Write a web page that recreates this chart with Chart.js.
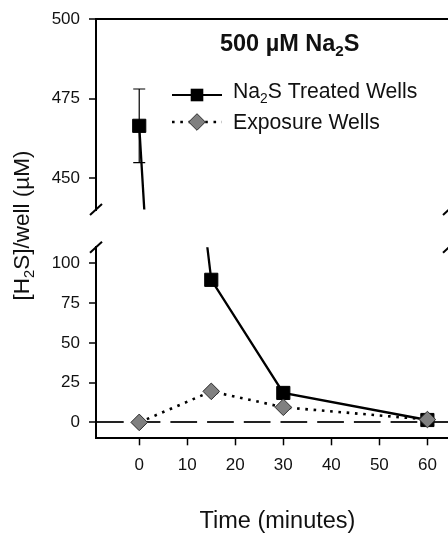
<!DOCTYPE html>
<html>
<head>
<meta charset="utf-8">
<script src="https://cdn.jsdelivr.net/npm/chart.js@4.4.1/dist/chart.umd.min.js"></script>
<style>
  html, body { margin: 0; padding: 0; background: #fff; overflow: hidden; }
  canvas { display: block; }
</style>
</head>
<body>
<canvas id="grafico" width="460" height="534"></canvas>
<script>
// ======================
// Dados
// ======================
const tempos = [0, 15, 30, 60];
const tratadoMedia = [466.4, 89.6, 18.5, 1.5];
const tratadoErro = [11.6, null, null, null];
const exposicaoMedia = [0, 19.5, 9.5, 1.8];

// eixos
const xMin = -9, xMax = 64.5, xPasso = 10;
const yTopoMin = 440, yTopoMax = 500;
const yBaseMin = -10, yBaseMax = 110;
const yPasso = 25;

const FONTE = '"Liberation Sans", Arial, Helvetica, sans-serif';

const pares = (valores) => tempos.map((t, i) => ({ x: t, y: valores[i] }));

// texto com subscrito: partes = [[texto, sub], ...]
function textoRico(ctx, partes, x, y, tam, peso, alinhar) {
  const medir = (p) => {
    ctx.font = `${peso} ${p[1] ? tam * 0.65 : tam}px ${FONTE}`;
    return ctx.measureText(p[0]).width;
  };
  const total = partes.reduce((s, p) => s + medir(p), 0);
  let cx = alinhar === "center" ? x - total / 2 : x;
  ctx.textAlign = "left";
  ctx.textBaseline = "alphabetic";
  partes.forEach((p) => {
    const w = medir(p);
    ctx.fillText(p[0], cx, p[1] ? y + tam * 0.25 : y);
    cx += w;
  });
}

// recorta cada dataset ao seu painel (eixo quebrado)
const recortePainel = {
  id: "recortePainel",
  beforeDatasetDraw(chart, args) {
    const ys = chart.scales[args.meta.yAxisID];
    const { ctx, chartArea } = chart;
    ctx.save();
    ctx.beginPath();
    ctx.rect(chartArea.left - 20, ys.top - 1, chartArea.right - chartArea.left + 40, ys.bottom - ys.top + 2);
    ctx.clip();
  },
  afterDatasetDraw(chart) {
    chart.ctx.restore();
  }
};

// barras de erro
const barrasErro = {
  id: "barrasErro",
  afterDatasetsDraw(chart) {
    const { ctx } = chart;
    const sx = chart.scales.x;
    ctx.save();
    ctx.strokeStyle = "#000";
    ctx.lineWidth = 1.2;
    tempos.forEach((t, i) => {
      const e = tratadoErro[i];
      if (e == null) return;
      const s = tratadoMedia[i] >= yTopoMin ? chart.scales.yTopo : chart.scales.yBase;
      const x = sx.getPixelForValue(t);
      const y1 = s.getPixelForValue(tratadoMedia[i] + e);
      const y2 = s.getPixelForValue(tratadoMedia[i] - e);
      ctx.beginPath();
      ctx.moveTo(x, y1); ctx.lineTo(x, y2);
      ctx.moveTo(x - 6, y1); ctx.lineTo(x + 6, y1);
      ctx.moveTo(x - 6, y2); ctx.lineTo(x + 6, y2);
      ctx.stroke();
    });
    ctx.restore();
  }
};

// quebras, título, legenda e títulos dos eixos
const decoracao = {
  id: "decoracao",
  afterDraw(chart) {
    const { ctx, chartArea } = chart;
    const topo = chart.scales.yTopo, base = chart.scales.yBase;
    ctx.save();

    // marcas de quebra
    ctx.strokeStyle = "#000";
    ctx.lineWidth = 2;
    [chartArea.left, chartArea.right].forEach((x) => {
      [topo.bottom, base.top].forEach((y) => {
        ctx.beginPath();
        ctx.moveTo(x - 6, y + 5.5);
        ctx.lineTo(x + 6, y - 5.5);
        ctx.stroke();
      });
    });

    ctx.fillStyle = "#111";
    // título
    textoRico(ctx, [["500 µM Na", 0], ["2", 1], ["S", 0]], 289.7, 50.5, 23.5, "bold", "center");

    // legenda
    ctx.strokeStyle = "#000";
    ctx.lineWidth = 2.2;
    ctx.beginPath(); ctx.moveTo(172, 95); ctx.lineTo(222, 95); ctx.stroke();
    ctx.fillStyle = "#000";
    ctx.fillRect(197 - 6.3, 95 - 6.3, 12.6, 12.6);

    ctx.lineWidth = 2.6;
    ctx.setLineDash([2.6, 5.7]);
    ctx.beginPath(); ctx.moveTo(172, 122); ctx.lineTo(222, 122); ctx.stroke();
    ctx.setLineDash([]);
    ctx.beginPath();
    ctx.moveTo(197 - 8.3, 122); ctx.lineTo(197, 122 - 8.3);
    ctx.lineTo(197 + 8.3, 122); ctx.lineTo(197, 122 + 8.3);
    ctx.closePath();
    ctx.fillStyle = "#808080"; ctx.fill();
    ctx.lineWidth = 1; ctx.strokeStyle = "#2a2a2a"; ctx.stroke();

    ctx.fillStyle = "#111";
    textoRico(ctx, [["Na", 0], ["2", 1], ["S Treated Wells", 0]], 233, 97.7, 21.2, "normal", "left");
    textoRico(ctx, [["Exposure Wells", 0]], 233, 129.3, 21.2, "normal", "left");

    // título eixo x
    textoRico(ctx, [["Time (minutes)", 0]], 277.5, 527.7, 23.5, "normal", "center");

    // título eixo y
    ctx.translate(28.5, 225.5);
    ctx.rotate(-Math.PI / 2);
    textoRico(ctx, [["[H", 0], ["2", 1], ["S]/well (µM)", 0]], 0, 0, 22.5, "normal", "center");
    ctx.restore();
  }
};

const fonteTicks = { family: FONTE, size: 17 };
const larguraEixoY = (s) => { s.width = 96; };

new Chart(document.getElementById("grafico"), {
  type: "line",
  data: {
    datasets: [
      {
        label: "Exposure Wells",
        data: pares(exposicaoMedia),
        yAxisID: "yBase",
        borderColor: "#000",
        borderWidth: 2.6,
        borderDash: [2.6, 5.7],
        pointStyle: "rectRot",
        pointRadius: 8.3,
        pointBackgroundColor: "#808080",
        pointBorderColor: "#2a2a2a",
        pointBorderWidth: 1
      },
      {
        label: "Na2S Treated Wells",
        data: pares(tratadoMedia),
        yAxisID: "yTopo",
        borderColor: "#000",
        borderWidth: 2.3,
        pointStyle: "rect",
        pointRadius: 9.3,
        pointBackgroundColor: "#000",
        pointBorderColor: "#000",
        pointBorderWidth: 1
      },
      {
        label: "Na2S Treated Wells",
        data: pares(tratadoMedia),
        yAxisID: "yBase",
        borderColor: "#000",
        borderWidth: 2.3,
        pointStyle: "rect",
        pointRadius: 9.3,
        pointBackgroundColor: "#000",
        pointBorderColor: "#000",
        pointBorderWidth: 1
      }
    ]
  },
  options: {
    responsive: false,
    animation: false,
    layout: { padding: { top: 16.7, right: 11, bottom: 0, left: 0 } },
    plugins: {
      legend: { display: false },
      title: { display: false },
      tooltip: { enabled: false }
    },
    scales: {
      x: {
        type: "linear",
        position: "bottom",
        min: xMin,
        max: xMax,
        ticks: { stepSize: xPasso, includeBounds: false, padding: 10, color: "#111", font: fonteTicks },
        grid: { drawOnChartArea: false, tickLength: 7, tickColor: "#000", tickWidth: 1.5 },
        border: { color: "#000", width: 2 },
        afterFit: (s) => { s.height = 95.7; }
      },
      yBase: {
        type: "linear",
        position: "left",
        stack: "y",
        stackWeight: 192.1,
        min: yBaseMin,
        max: yBaseMax,
        ticks: { stepSize: yPasso, includeBounds: false, padding: 9, color: "#111", font: fonteTicks },
        grid: {
          color: (c) => (c.tick && c.tick.value === 0 ? "#222" : "rgba(0,0,0,0)"),
          lineWidth: 2,
          tickLength: 7,
          tickColor: "#000",
          tickWidth: 1.5
        },
        border: { color: "#000", width: 2, dash: [26.7, 10] },
        afterFit: larguraEixoY
      },
      yVao: {
        type: "linear",
        position: "left",
        stack: "y",
        stackWeight: 38,
        min: 0,
        max: 1,
        ticks: { display: false },
        grid: { display: false },
        border: { display: false },
        afterFit: larguraEixoY
      },
      yTopo: {
        type: "linear",
        position: "left",
        stack: "y",
        stackWeight: 191.5,
        min: yTopoMin,
        max: yTopoMax,
        ticks: { stepSize: yPasso, includeBounds: false, padding: 9, color: "#111", font: fonteTicks },
        grid: {
          color: (c) => (c.tick && c.tick.value === yTopoMax ? "#000" : "rgba(0,0,0,0)"),
          lineWidth: 2,
          tickLength: 7,
          tickColor: "#000",
          tickWidth: 1.5
        },
        border: { color: "#000", width: 2 },
        afterFit: larguraEixoY
      }
    }
  },
  plugins: [recortePainel, barrasErro, decoracao]
});
</script>
</body>
</html>
